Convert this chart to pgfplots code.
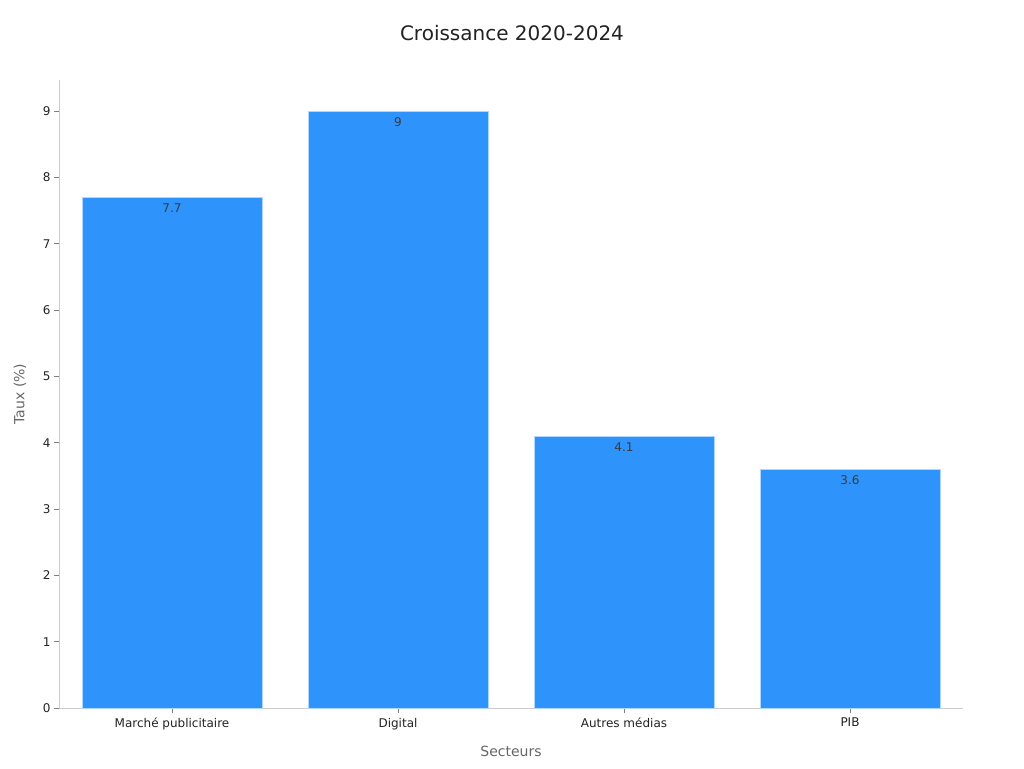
\documentclass[border=0pt]{standalone}
\usepackage{fontspec}
\setmainfont{DejaVu Sans}
\usepackage{pgfplots}
\pgfplotsset{compat=1.18}
\definecolor{barblue}{RGB}{46,147,250}
\definecolor{baredge}{RGB}{175,215,255}
\definecolor{axgrey}{RGB}{204,204,204}
\definecolor{txtdark}{RGB}{34,34,34}
\definecolor{lblgrey}{RGB}{102,102,102}
\begin{document}
\begin{tikzpicture}[x=1pt,y=1pt]
\path[use as bounding box] (0,0) rectangle (1024,768);
\node[font=\fontsize{20}{24}\selectfont, text=txtdark] at (512,735) {Croissance 2020-2024};
\begin{axis}[
  at={(59pt,60pt)}, anchor=south west,
  scale only axis, width=904pt, height=628pt,
  xmin=-0.5, xmax=3.5, ymin=0, ymax=9.47,
  axis lines*=left,
  axis line style={axgrey, line width=0.8pt},
  xtick={0,1,2,3},
  xticklabels={Marché publicitaire, Digital, Autres médias, PIB},
  ytick={0,1,...,9},
  tick align=outside,
  major tick length=5pt,
  tick style={color=gray, line width=0.8pt},
  /pgf/number format/assume math mode=true,
  ticklabel style={font=\fontsize{12}{14}\selectfont, text=txtdark},
  xticklabel style={yshift=-1.5pt},
  xlabel={Secteurs},
  ylabel={Taux (\%)},
  label style={font=\fontsize{14}{16}\selectfont, text=lblgrey},
  xlabel style={at={(axis description cs:0.5,0)}, anchor=center, yshift=-43pt},
  ylabel style={at={(axis description cs:0,0.5)}, anchor=center, rotate=0, yshift=39pt},
  ybar, bar width=180pt,
  nodes near coords,
  nodes near coords style={anchor=north, yshift=-3pt, font=\fontsize{12}{14}\selectfont, text={rgb,255:red,60;green,60;blue,60}},
  clip=false,
]
\addplot[fill=barblue, draw=baredge, line width=0.8pt, bar shift=0pt] coordinates {(0,7.7) (1,9) (2,4.1) (3,3.6)};
\end{axis}
\end{tikzpicture}
\end{document}
